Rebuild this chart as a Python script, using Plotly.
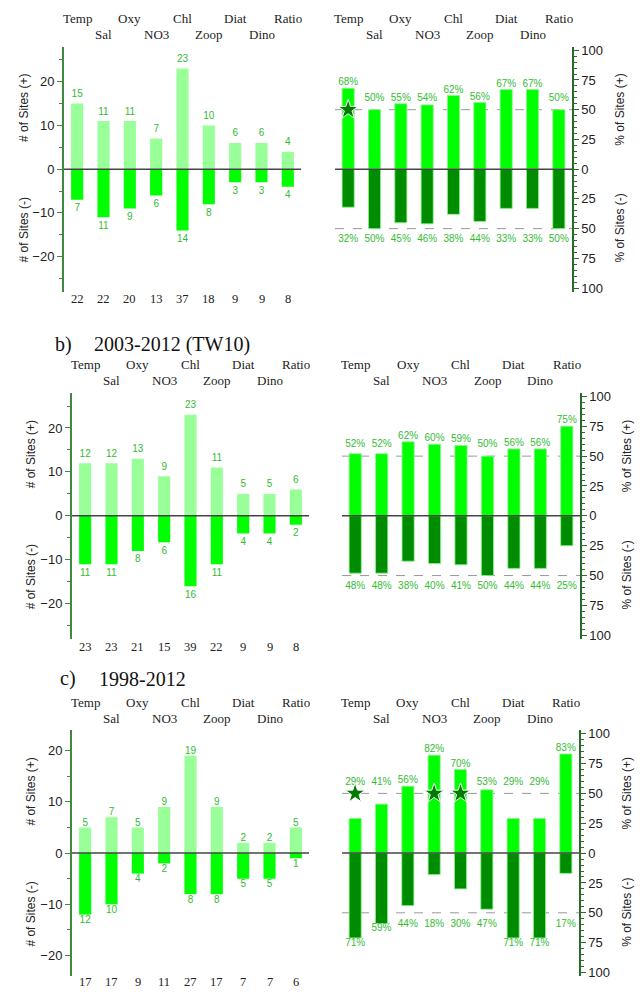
import plotly.graph_objects as go

# ---------------- data ----------------
categories = ["Temp", "Sal", "Oxy", "NO3", "Chl", "Zoop", "Diat", "Dino", "Ratio"]

a_pos = [15, 11, 11, 7, 23, 10, 6, 6, 4]
a_neg = [7, 11, 9, 6, 14, 8, 3, 3, 4]
a_tot = [22, 22, 20, 13, 37, 18, 9, 9, 8]
a_pct_pos = [68, 50, 55, 54, 62, 56, 67, 67, 50]
a_pct_neg = [32, 50, 45, 46, 38, 44, 33, 33, 50]
a_stars = [0]

b_pos = [12, 12, 13, 9, 23, 11, 5, 5, 6]
b_neg = [11, 11, 8, 6, 16, 11, 4, 4, 2]
b_tot = [23, 23, 21, 15, 39, 22, 9, 9, 8]
b_pct_pos = [52, 52, 62, 60, 59, 50, 56, 56, 75]
b_pct_neg = [48, 48, 38, 40, 41, 50, 44, 44, 25]
b_stars = []

c_pos = [5, 7, 5, 9, 19, 9, 2, 2, 5]
c_neg = [12, 10, 4, 2, 8, 8, 5, 5, 1]
c_tot = [17, 17, 9, 11, 27, 17, 7, 7, 6]
c_pct_pos = [29, 41, 56, 82, 70, 53, 29, 29, 83]
c_pct_neg = [71, 59, 44, 18, 30, 47, 71, 71, 17]
c_stars = [0, 3, 4]

count_ticks = [-20, -10, 0, 10, 20]
pct_tick_vals = [-100, -75, -50, -25, 0, 25, 50, 75, 100]
pct_tick_text = ["100", "75", "50", "25", "0", "25", "50", "75", "100"]
star_level = 50
ref_level = 50

titles = [None, ("b)", "2003-2012 (TW10)"), ("c)", "1998-2012")]

# ---------------- layout constants ----------------
W, H = 644, 992
SANS = "Liberation Sans, Arial, sans-serif"
SERIF = "Liberation Serif, Times New Roman, serif"
C_LEFT_POS = "#99ff99"
C_LEFT_NEG = "#00ff00"
C_RIGHT_POS = "#00ff00"
C_RIGHT_NEG = "#008c00"
C_VAL = "#33bb33"
C_AXL = "#3f8a3f"
C_AXR = "#2a6a2a"
C_STAR = "#007a00"


def fx(px):
    return px / W


def fy(px):
    return 1 - px / H


panels = [
    dict(pos=a_pos, neg=a_neg, tot=a_tot, ppos=a_pct_pos, pneg=a_pct_neg, stars=a_stars,
         top=43, bot=290, lx0=64, lx1=301, rx0=335, rx1=572, lr=28,
         row1=15, row2=31, tot_y=297, ltx=24, rtx=620, loff=9, lnoff=9,
         title=titles[0], ty=None, tx=(53, 92)),
    dict(pos=b_pos, neg=b_neg, tot=b_tot, ppos=b_pct_pos, pneg=b_pct_neg, stars=b_stars,
         top=392, bot=640, lx0=72, lx1=309, rx0=342, rx1=580, lr=28,
         row1=363, row2=380, tot_y=648, ltx=31, rtx=627, loff=9, lnoff=9,
         title=titles[1], ty=343, tx=(53, 92)),
    dict(pos=c_pos, neg=c_neg, tot=c_tot, ppos=c_pct_pos, pneg=c_pct_neg, stars=c_stars,
         top=732, bot=980, lx0=72, lx1=309, rx0=342, rx1=579, lr=24,
         row1=704, row2=720, tot_y=986, ltx=31, rtx=627, loff=4.5, lnoff=6,
         title=titles[2], ty=680, tx=(58, 97)),
]

fig = go.Figure()
layout = dict(width=W, height=H, margin=dict(l=0, r=0, t=0, b=0),
              paper_bgcolor="white", plot_bgcolor="white", showlegend=False,
              barmode="overlay")
shapes = []
annotations = []
xs = list(range(len(categories)))
BW = 0.46

for i, p in enumerate(panels):
    nl = 2 * i + 1
    nr = 2 * i + 2
    xl = "x" if nl == 1 else f"x{nl}"
    yl = "y" if nl == 1 else f"y{nl}"
    xr = f"x{nr}"
    yr = f"y{nr}"
    ydom = [fy(p["bot"]), fy(p["top"])]
    lr = p["lr"]
    scale_l = (p["bot"] - p["top"]) / (2 * lr)  # px per unit

    # x axes
    for n, x0, x1, ya in [(nl, p["lx0"], p["lx1"], yl), (nr, p["rx0"], p["rx1"], yr)]:
        key = "xaxis" if n == 1 else f"xaxis{n}"
        layout[key] = dict(domain=[fx(x0), fx(x1)], range=[-0.5, 8.5], anchor=ya,
                           visible=False, fixedrange=True)

    # left y axis
    layout["yaxis" if nl == 1 else f"yaxis{nl}"] = dict(
        domain=ydom, range=[-lr, lr], anchor=xl, side="left",
        showline=True, linecolor=C_AXL, linewidth=2,
        ticks="outside", ticklen=5, tickwidth=1, tickcolor=C_AXL,
        tickvals=count_ticks, tickfont=dict(family=SANS, size=13, color="#222"),
        minor=dict(dtick=5, tick0=0, ticks="outside", ticklen=3, tickcolor=C_AXL),
        showgrid=False, zeroline=False, fixedrange=True)
    # right y axis
    layout[f"yaxis{nr}"] = dict(
        domain=ydom, range=[-103, 103], anchor=xr, side="right",
        showline=True, linecolor=C_AXR, linewidth=1.5,
        ticks="outside", ticklen=5, tickwidth=1, tickcolor=C_AXR,
        tickvals=pct_tick_vals, ticktext=pct_tick_text,
        tickfont=dict(family=SANS, size=13, color="#222"),
        minor=dict(dtick=5, tick0=0, ticks="outside", ticklen=3, tickcolor=C_AXR),
        showgrid=False, zeroline=False, fixedrange=True)

    # left bars
    fig.add_trace(go.Bar(x=xs, y=p["pos"], width=BW, marker=dict(color=C_LEFT_POS, line=dict(width=0)),
                         xaxis=xl, yaxis=yl, hoverinfo="skip"))
    fig.add_trace(go.Bar(x=xs, y=[-v for v in p["neg"]], width=BW,
                         marker=dict(color=C_LEFT_NEG, line=dict(width=0)),
                         xaxis=xl, yaxis=yl, hoverinfo="skip"))
    # left value labels
    fig.add_trace(go.Scatter(x=xs, y=[v + p["loff"] / scale_l for v in p["pos"]],
                             text=[str(v) for v in p["pos"]], mode="text",
                             textfont=dict(family=SANS, size=10, color=C_VAL),
                             xaxis=xl, yaxis=yl, hoverinfo="skip"))
    fig.add_trace(go.Scatter(x=xs, y=[-v - p["lnoff"] / scale_l for v in p["neg"]],
                             text=[str(v) for v in p["neg"]], mode="text",
                             textfont=dict(family=SANS, size=10, color=C_VAL),
                             xaxis=xl, yaxis=yl, hoverinfo="skip"))

    # right bars
    fig.add_trace(go.Bar(x=xs, y=p["ppos"], width=BW,
                         marker=dict(color=C_RIGHT_POS, line=dict(color="#8df58d", width=0.8)),
                         xaxis=xr, yaxis=yr, hoverinfo="skip"))
    fig.add_trace(go.Bar(x=xs, y=[-v for v in p["pneg"]], width=BW,
                         marker=dict(color=C_RIGHT_NEG, line=dict(color="#8df58d", width=0.8)),
                         xaxis=xr, yaxis=yr, hoverinfo="skip"))
    fig.add_trace(go.Scatter(x=xs, y=[max(v, 55) + 4.5 for v in p["ppos"]],
                             text=[f"{v}%" for v in p["ppos"]], mode="text",
                             textfont=dict(family=SANS, size=10, color=C_VAL),
                             xaxis=xr, yaxis=yr, hoverinfo="skip"))
    fig.add_trace(go.Scatter(x=xs, y=[-(max(v, 55) + 4.5) for v in p["pneg"]],
                             text=[f"{v}%" for v in p["pneg"]], mode="text",
                             textfont=dict(family=SANS, size=10, color=C_VAL),
                             xaxis=xr, yaxis=yr, hoverinfo="skip"))
    if p["stars"]:
        fig.add_trace(go.Scatter(x=p["stars"], y=[star_level] * len(p["stars"]), mode="markers",
                                 marker=dict(symbol="star", size=15, color=C_STAR,
                                             line=dict(color="white", width=1)),
                                 xaxis=xr, yaxis=yr, hoverinfo="skip"))

    # zero lines and dashed reference lines
    for xa, ya in [(xl, yl), (xr, yr)]:
        shapes.append(dict(type="line", xref=f"{xa} domain", yref=ya, x0=0, x1=1, y0=0, y1=0,
                           line=dict(color="#444", width=1.5), layer="above"))
    for s in (1, -1):
        shapes.append(dict(type="line", xref=f"{xr} domain", yref=yr, x0=0, x1=1,
                           y0=s * ref_level, y1=s * ref_level,
                           line=dict(color="#999", width=1, dash="dash"), layer="below"))

    # category labels (two staggered rows) and totals
    for xa in (xl, xr):
        for k, name in enumerate(categories):
            annotations.append(dict(x=k, y=fy(p["row1"] if k % 2 == 0 else p["row2"]),
                                    xref=xa, yref="paper", text=name, showarrow=False,
                                    xanchor="center", yanchor="middle",
                                    font=dict(family=SERIF, size=13, color="#222")))
    for k, t in enumerate(p["tot"]):
        annotations.append(dict(x=k, y=fy(p["tot_y"]), xref=xl, yref="paper", text=str(t),
                                showarrow=False, xanchor="center", yanchor="middle",
                                font=dict(family=SERIF, size=12.5, color="#222")))

    # axis titles
    for txt, yv in [("# of Sites (+)", lr / 2), ("# of Sites (-)", -lr / 2)]:
        annotations.append(dict(x=fx(p["ltx"]), y=yv, xref="paper", yref=yl, text=txt,
                                textangle=-90, showarrow=False, xanchor="center", yanchor="middle",
                                font=dict(family=SANS, size=12, color="#222")))
    for txt, yv in [("% of Sites (+)", 50), ("% of Sites (-)", -50)]:
        annotations.append(dict(x=fx(p["rtx"]), y=yv, xref="paper", yref=yr, text=txt,
                                textangle=-90, showarrow=False, xanchor="center", yanchor="middle",
                                font=dict(family=SANS, size=12, color="#222")))

    # panel title
    if p["title"]:
        annotations.append(dict(x=fx(p["tx"][0]), y=fy(p["ty"]), xref="paper", yref="paper",
                                text=p["title"][0], showarrow=False, xanchor="left", yanchor="middle",
                                font=dict(family=SERIF, size=20, color="#111")))
        annotations.append(dict(x=fx(p["tx"][1]), y=fy(p["ty"]), xref="paper", yref="paper",
                                text=p["title"][1], showarrow=False, xanchor="left", yanchor="middle",
                                font=dict(family=SERIF, size=20, color="#111")))

layout["shapes"] = shapes
layout["annotations"] = annotations
fig.update_layout(**layout)
fig.write_html("out.html", config={"displayModeBar": False},
               post_script="document.body.style.margin='0';document.body.style.overflow='hidden';")
